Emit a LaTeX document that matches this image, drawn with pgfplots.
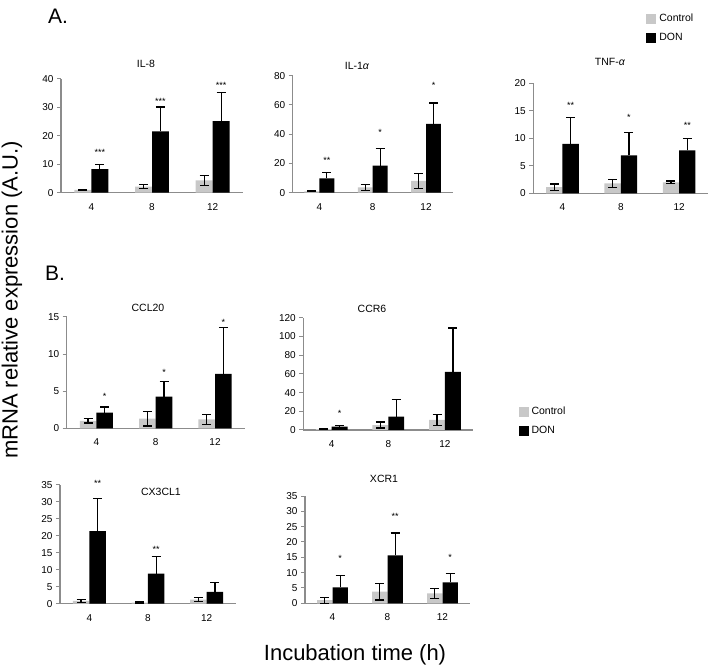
\documentclass[border=0pt]{standalone}
\usepackage{pgfplots}
\pgfplotsset{compat=1.18}
\usepackage{fontspec}
\setmainfont{Liberation Sans}
\definecolor{ctrl}{RGB}{200,200,200}
\definecolor{axgray}{RGB}{140,140,140}

\pgfplotsset{
  panel/.style={
    scale only axis, anchor=south west, clip=false,
    axis x line=bottom, axis y line=left,
    axis line style={draw=axgray, line width=1.3pt, -},
    xmin=-0.5, xmax=2.5, ymin=0,
    xtick={0,1,2}, xticklabels={4,8,12},
    major x tick style={draw=none},
    major y tick style={draw=axgray, line width=1pt},
    tick align=outside, major tick length=4pt,
    tick label style={font=\fontsize{10}{11}\selectfont},
    /pgf/number format/assume math mode=true,
    xticklabel style={yshift=-3pt},
  },
  ctl/.style={ybar, bar width=0.28, bar shift=0pt, fill=ctrl, draw=none, forget plot,
    error bars/.cd, y dir=both, y explicit,
    error bar style={draw=black, line width=1.3pt},
    error mark options={rotate=90, draw=black, mark size=4.5pt, line width=1.3pt}},
  don/.style={ybar, bar width=0.28, bar shift=0pt, fill=black, draw=none, forget plot,
    error bars/.cd, y dir=plus, y explicit,
    error bar style={draw=black, line width=1.3pt},
    error mark options={rotate=90, draw=black, mark size=4.5pt, line width=1.3pt}},
  leg/.style={
    legend style={draw=none, fill=none, inner sep=0pt,
      font=\fontsize{10.5}{12}\selectfont, row sep=6pt,
      nodes={inner xsep=3pt}},
    legend cell align=left,
    legend image code/.code={\fill[##1, draw=none] (0pt,-5pt) rectangle (10pt,5pt);},
  },
}
\tikzset{st/.style={font=\fontsize{9}{9}\selectfont, inner sep=0pt}}

\begin{document}
\begin{tikzpicture}
\useasboundingbox (0pt,0pt) rectangle (710pt,672pt);

% ---- A. row ----
\begin{axis}[panel, at={(61pt,479.3pt)}, width=182pt, height=113.7pt,
  ymax=40, ytick={0,10,20,30,40}]
  \addplot[ctl] coordinates {(-0.14,1.0) +- (0,0.15) (0.86,2.1) +- (0,0.7) (1.86,4.3) +- (0,1.7)};
  \addplot[don] coordinates {(0.14,8.3) +- (0,1.7) (1.14,21.6) +- (0,8.5) (2.14,25.2) +- (0,10)};
  \node[st] at (axis cs:0.14,14.2) {***};
  \node[st] at (axis cs:1.14,32) {***};
  \node[st] at (axis cs:2.14,37.9) {***};
\end{axis}

\begin{axis}[panel, at={(292.7pt,479.3pt)}, width=160pt, height=117pt,
  ymax=80, ytick={0,20,40,60,80}]
  \addplot[ctl] coordinates {(-0.14,0.9) +- (0,0.2) (0.86,3.6) +- (0,2.0) (1.86,8.0) +- (0,5.0)};
  \addplot[don] coordinates {(0.14,9.8) +- (0,4.1) (1.14,18.5) +- (0,11.5) (2.14,47) +- (0,14.3)};
  \node[st] at (axis cs:0.14,22) {**};
  \node[st] at (axis cs:1.14,41) {*};
  \node[st] at (axis cs:2.14,73.6) {*};
\end{axis}

\begin{axis}[panel, leg, at={(533.3pt,478.7pt)}, width=175pt, height=110pt,
  ymax=20, ytick={0,5,10,15,20},
  legend style={at={(0.645,1.65)}, anchor=north west}]
  \addplot[ctl] coordinates {(-0.14,1.1) +- (0,0.6) (0.86,1.8) +- (0,0.7) (1.86,2.0) +- (0,0.25)};
  \addplot[don] coordinates {(0.14,9.0) +- (0,4.8) (1.14,6.9) +- (0,4.1) (2.14,7.8) +- (0,2.2)};
  \addlegendimage{fill=ctrl}\addlegendentry{Control}
  \addlegendimage{fill=black}\addlegendentry{DON}
  \node[st] at (axis cs:0.14,16) {**};
  \node[st] at (axis cs:1.14,13.8) {*};
  \node[st] at (axis cs:2.14,12.4) {**};
\end{axis}

% ---- B. rows ----
\begin{axis}[panel, at={(66.7pt,243.7pt)}, width=178pt, height=111.3pt,
  ymax=15, ytick={0,5,10,15}]
  \addplot[ctl] coordinates {(-0.14,1.0) +- (0,0.3) (0.86,1.3) +- (0,1.0) (1.86,1.2) +- (0,0.7)};
  \addplot[don] coordinates {(0.14,2.1) +- (0,0.75) (1.14,4.26) +- (0,2.0) (2.14,7.35) +- (0,6.2)};
  \node[st] at (axis cs:0.14,4.35) {*};
  \node[st] at (axis cs:1.14,7.5) {*};
  \node[st] at (axis cs:2.14,14.3) {*};
\end{axis}

\begin{axis}[panel, leg, at={(303.3pt,242pt)}, width=170pt, height=112.3pt,
  ymax=120, ytick={0,20,40,60,80,100,120},
  legend style={at={(1.265,0.223)}, anchor=north west}]
  \addplot[ctl] coordinates {(-0.14,1.0) +- (0,0.5) (0.86,5.3) +- (0,3.2) (1.86,10.7) +- (0,5.8)};
  \addplot[don] coordinates {(0.14,3.5) +- (0,1.1) (1.14,14.2) +- (0,18.2) (2.14,62) +- (0,47)};
  \addlegendimage{fill=ctrl}\addlegendentry{Control}
  \addlegendimage{fill=black}\addlegendentry{DON}
  \node[st] at (axis cs:0.14,17.8) {*};
\end{axis}

\begin{axis}[panel, at={(60pt,68.3pt)}, width=176pt, height=118.7pt,
  ymax=35, ytick={0,5,10,15,20,25,30,35}]
  \addplot[ctl] coordinates {(-0.14,0.8) +- (0,0.5) (0.86,0.3) +- (0,0.2) (1.86,1.2) +- (0,0.6)};
  \addplot[don] coordinates {(0.14,21.4) +- (0,9.6) (1.14,8.85) +- (0,5.0) (2.14,3.5) +- (0,2.8)};
  \node[st] at (axis cs:0.14,35.5) {**};
  \node[st] at (axis cs:1.14,16) {**};
\end{axis}

\begin{axis}[panel, at={(305pt,68.7pt)}, width=165pt, height=107.3pt,
  ymax=35, ytick={0,5,10,15,20,25,30,35}]
  \addplot[ctl] coordinates {(-0.14,1.0) +- (0,1.0) (0.86,3.8) +- (0,2.7) (1.86,3.2) +- (0,1.6)};
  \addplot[don] coordinates {(0.14,5.2) +- (0,3.8) (1.14,15.6) +- (0,7.3) (2.14,6.8) +- (0,3.0)};
  \node[st] at (axis cs:0.14,14.7) {*};
  \node[st] at (axis cs:1.14,28.5) {**};
  \node[st] at (axis cs:2.14,15) {*};
\end{axis}

% ---- titles and labels ----
\begin{scope}[every node/.style={font=\fontsize{10.5}{12}\selectfont}]
  \node at (146pt,608pt) {IL-8};
  \node at (357pt,606pt) {IL-1\textit{α}};
  \node at (610pt,610pt) {TNF-\textit{α}};
  \node at (148pt,364pt) {CCL20};
  \node at (372pt,363pt) {CCR6};
  \node at (161pt,180pt) {CX3CL1};
  \node at (384pt,193pt) {XCR1};
\end{scope}
\node[font=\fontsize{21}{24}\selectfont] at (58pt,656pt) {A.};
\node[font=\fontsize{21}{24}\selectfont] at (55pt,399pt) {B.};
\node[font=\fontsize{22}{24}\selectfont, rotate=90] at (12pt,372pt) {mRNA relative expression (A.U.)};
\node[font=\fontsize{22}{24}\selectfont] at (355pt,17pt) {Incubation time (h)};
\end{tikzpicture}
\end{document}
